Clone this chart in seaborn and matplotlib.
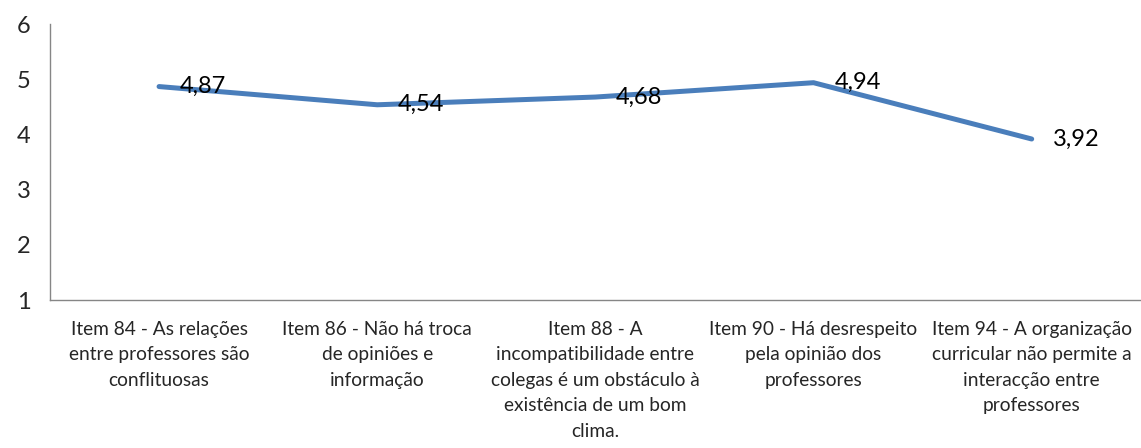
import numpy as np
import pandas as pd
import matplotlib
matplotlib.use("Agg")
import matplotlib.pyplot as plt
from matplotlib.ticker import FixedLocator
import seaborn as sns

items = [
    "Item 84 - As relações\nentre professores são\nconflituosas",
    "Item 86 - Não há troca\nde opiniões e\ninformação",
    "Item 88 - A\nincompatibilidade entre\ncolegas é um obstáculo à\nexistência de um bom\nclima.",
    "Item 90 - Há desrespeito\npela opinião dos\nprofessores",
    "Item 94 - A organização\ncurricular não permite a\ninteracção entre\nprofessores",
]
means = [4.87, 4.54, 4.68, 4.94, 3.92]
y_ticks = [1, 2, 3, 4, 5, 6]

df = pd.DataFrame({"item": items, "mean": means})

sns.set_style("white")
plt.rcParams["font.family"] = ["Lato", "DejaVu Sans"]

fig = plt.figure(figsize=(11.41, 4.48), dpi=100)
ax = fig.add_axes([0.0438, 0.330, 0.956, 0.616])

sns.lineplot(data=df, x="item", y="mean", ax=ax, color="#4A7EBB",
             linewidth=3.6, sort=False, solid_capstyle="round")

# data labels to the right of each point
for i, v in enumerate(df["mean"]):
    ax.annotate(f"{v:.2f}".replace(".", ","), (i, v), xytext=(15, 0),
                textcoords="offset points", ha="left", va="center",
                fontsize=17, color="black")

n = len(items)
ax.set_xlim(-0.5, n - 0.5)
ax.set_ylim(1, 6)
ax.set_yticks(y_ticks)
ax.set_xticks(range(n))
ax.set_xticklabels(items, fontsize=13.8, linespacing=1.6)
ax.xaxis.set_minor_locator(FixedLocator(np.arange(-0.5, n, 1.0)))
ax.tick_params(axis="x", which="major", length=0, pad=15)
ax.tick_params(axis="x", which="minor", length=6, width=1, color="#868686", direction="out")
ax.tick_params(axis="y", length=6, width=1, color="#868686", direction="out",
               labelsize=17, pad=8)
ax.set_xlabel("")
ax.set_ylabel("")

for side in ["top", "right"]:
    ax.spines[side].set_visible(False)
for side in ["left", "bottom"]:
    ax.spines[side].set_color("#868686")
    ax.spines[side].set_linewidth(1)

fig.savefig("out.png", dpi=100, facecolor="white")
